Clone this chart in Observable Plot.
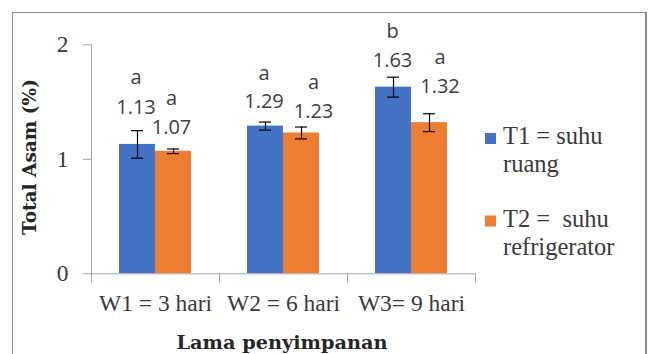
<!DOCTYPE html>
<html>
<head>
<meta charset="utf-8">
<script src="https://cdn.jsdelivr.net/npm/d3@7"></script>
<script src="https://cdn.jsdelivr.net/npm/@observablehq/plot@0.6"></script>
<style>
  html, body { margin: 0; padding: 0; background: #fff; }
  #wrap { position: relative; width: 652px; height: 354px; overflow: hidden; background: #fff; }
  #border { position: absolute; left: 12px; top: 12px; width: 635px; height: 400px; box-sizing: border-box;
            border: 1px solid #8c8c8c; border-right-width: 2px; }
  #chart { position: absolute; left: 0; top: 0; }
</style>
</head>
<body>
<div id="wrap"><div id="border"></div><div id="chart"></div></div>
<script>
// ---- data ----
const weeks = ["W1 = 3 hari", "W2 = 6 hari", "W3= 9 hari"];
const series = ["T1", "T2"];
const seriesNames = [["T1 = suhu", "ruang"], ["T2 =  suhu", "refrigerator"]];
const t1Values = [1.13, 1.29, 1.63];
const t2Values = [1.07, 1.23, 1.32];
const t1Errors = [0.12, 0.035, 0.087];
const t2Errors = [0.02, 0.052, 0.078];
const t1Letters = ["a", "a", "b"];
const t2Letters = ["a", "a", "a"];
const yTicks = [0, 1, 2];
const xTitle = "Lama penyimpanan";
const yTitle = "Total Asam (%)";

// ---- label layout nudges (pixels), order W1T1, W1T2, W2T1, W2T2, W3T1, W3T2 ----
const labelDx = [-1.5, -2, -1.5, 12, -1, 10.5];
const valueDy = [-17, -15, -14, -9, -10, -21];
const letterDy = [-47, -43.5, -42.5, -37.7, -39, -50];

const colors = ["#4472C4", "#ED7D31"];
const serif = "'Liberation Serif', serif";
const titleSerif = "'DejaVu Serif', serif";
const sans = "'Open Sans', sans-serif";
const axisGray = "#a6a6a6";

const data = weeks.flatMap((w, i) => [
  {week: w, series: series[0], value: t1Values[i], err: t1Errors[i], letter: t1Letters[i]},
  {week: w, series: series[1], value: t2Values[i], err: t2Errors[i], letter: t2Letters[i]}
]);

const errTop = d => d.value + d.err;
const errBottom = d => d.value - d.err;

const chart = Plot.plot({
  width: 652,
  height: 354,
  marginLeft: 90,
  marginRight: 176,
  marginTop: 44.3,
  marginBottom: 80.7,
  style: {background: "transparent", overflow: "visible", color: "#3a3a3a"},
  fx: {domain: weeks, padding: 0, label: null},
  x: {domain: series, paddingInner: 0, paddingOuter: 0.74, axis: null},
  y: {domain: [0, 2]},
  color: {domain: series, range: colors},
  marks: [
    Plot.barY(data, {fx: "week", x: "series", y: "value", fill: "series", inset: 0}),
    Plot.ruleY([0], {stroke: axisGray}),
    Plot.frame({anchor: "left", facetAnchor: "left", insetBottom: -8, stroke: axisGray}),
    Plot.frame({anchor: "left", insetTop: 229, insetBottom: -8, stroke: axisGray}),
    Plot.frame({anchor: "right", facetAnchor: "right", insetTop: 229, insetBottom: -8, stroke: axisGray}),
    Plot.axisY({ticks: yTicks, tickSize: 8, tickPadding: 15, fontSize: 23.5, fontFamily: serif,
                stroke: axisGray, fill: "#3a3a3a", label: null, tickFormat: d => String(d)}),
    Plot.axisFx({anchor: "bottom", tickSize: 0, tickPadding: 21, fontSize: 23.5, fontFamily: serif,
                 fill: "#3a3a3a", label: null}),
    Plot.ruleX(data, {fx: "week", x: "series", y1: errBottom, y2: errTop, stroke: "#000", strokeWidth: 1.2}),
    Plot.tickY(data, {fx: "week", x: "series", y: errTop, insetLeft: 12, insetRight: 12, stroke: "#000", strokeWidth: 1.2}),
    Plot.tickY(data, {fx: "week", x: "series", y: errBottom, insetLeft: 12, insetRight: 12, stroke: "#000", strokeWidth: 1.2}),
    ...data.map((d, i) => Plot.text([d], {
      fx: "week", x: "series", y: errTop, text: r => r.value.toFixed(2),
      dx: labelDx[i], dy: valueDy[i], lineAnchor: "bottom",
      fontSize: 20, fontFamily: sans, fill: "#404040"
    })),
    ...data.map((d, i) => Plot.text([d], {
      fx: "week", x: "series", y: errTop, text: "letter",
      dx: labelDx[i], dy: letterDy[i], lineAnchor: "bottom",
      fontSize: 20, fontFamily: sans, fill: "#404040"
    }))
  ]
});

document.getElementById("chart").appendChild(chart);

// ---- titles and legend ----
const svg = d3.select(chart);
svg.append("text")
  .attr("transform", "translate(36,157) rotate(-90)")
  .attr("text-anchor", "middle")
  .attr("font-family", titleSerif).attr("font-weight", "bold").attr("font-size", 18.5)
  .attr("fill", "#262626")
  .text(yTitle);
svg.append("text")
  .attr("x", 282).attr("y", 348.5)
  .attr("text-anchor", "middle")
  .attr("font-family", titleSerif).attr("font-weight", "bold").attr("font-size", 19.3)
  .attr("fill", "#262626")
  .text(xTitle);

const legend = svg.append("g");
const entryY = [133, 215.5];
seriesNames.forEach((lines, i) => {
  legend.append("rect").attr("x", 485).attr("y", entryY[i]).attr("width", 11).attr("height", 11).attr("fill", colors[i]);
  const t = legend.append("text")
    .attr("text-anchor", "start")
    .attr("font-family", serif).attr("font-size", 24.5).attr("fill", "#3a3a3a")
    .style("white-space", "pre");
  lines.forEach((ln, j) => {
    t.append("tspan").attr("x", 503).attr("y", entryY[i] + 11 + j * 28).text(ln);
  });
});
</script>
</body>
</html>
